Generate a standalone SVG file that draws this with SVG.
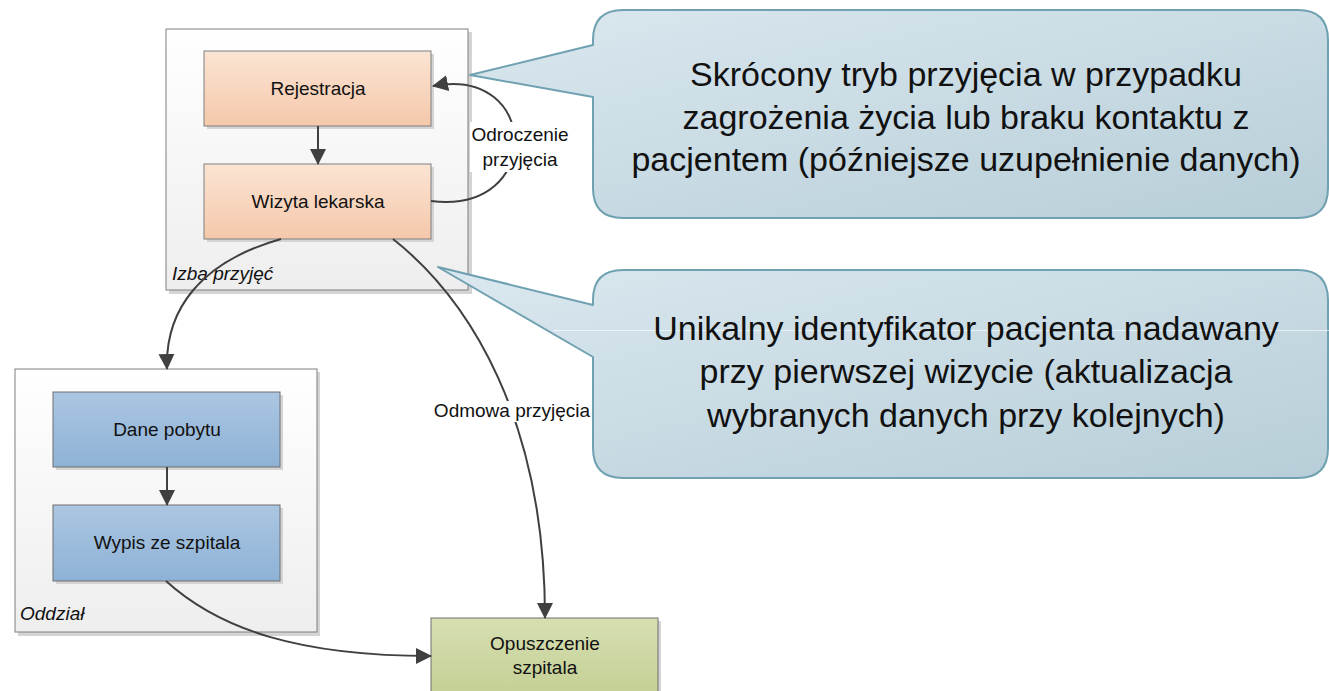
<svg xmlns="http://www.w3.org/2000/svg" width="1329" height="691" viewBox="0 0 1329 691">
  <defs>
    <linearGradient id="gContainer" x1="0" y1="0" x2="0" y2="1">
      <stop offset="0" stop-color="#ffffff"/>
      <stop offset="1" stop-color="#eeeeee"/>
    </linearGradient>
    <linearGradient id="gOrange" x1="0" y1="0" x2="0" y2="1">
      <stop offset="0" stop-color="#fbe4d3"/>
      <stop offset="1" stop-color="#f5c8ab"/>
    </linearGradient>
    <linearGradient id="gBlue" x1="0" y1="0" x2="0" y2="1">
      <stop offset="0" stop-color="#abc6e2"/>
      <stop offset="1" stop-color="#8eb2d6"/>
    </linearGradient>
    <linearGradient id="gGreen" x1="0" y1="0" x2="0" y2="1">
      <stop offset="0" stop-color="#d7dfb2"/>
      <stop offset="1" stop-color="#c3cf93"/>
    </linearGradient>
    <linearGradient id="gCallout" x1="0" y1="0" x2="1" y2="1">
      <stop offset="0" stop-color="#dbe8ef"/>
      <stop offset="1" stop-color="#b7ced8"/>
    </linearGradient>
    <marker id="arrow" viewBox="0 0 16 16" refX="15" refY="8" markerWidth="16" markerHeight="16" markerUnits="userSpaceOnUse" orient="auto">
      <path d="M0,0 L16,8 L0,16 Z" fill="#404040"/>
    </marker>
  </defs>
  <style>
    .container { fill: url(#gContainer); stroke: #7f7f7f; stroke-width: 1; }
    .shadow { fill: #d4d4d4; }
    .orange { fill: url(#gOrange); stroke: #7f7f7f; stroke-width: 1; }
    .blue { fill: url(#gBlue); stroke: #6f6f6f; stroke-width: 1; }
    .green { fill: url(#gGreen); stroke: #6f6f6f; stroke-width: 1; }
    .callout { fill: url(#gCallout); stroke: #6fa1b1; stroke-width: 2; stroke-linejoin: round; }
    .label { font-family: "Liberation Sans", Arial, sans-serif; font-size: 19px; fill: #111; text-anchor: middle; }
    .title { font-family: "Liberation Sans", Arial, sans-serif; font-size: 19px; font-style: italic; fill: #111; }
    .note { font-family: "Liberation Sans", Arial, sans-serif; font-size: 34px; fill: #111; text-anchor: middle; }
    .edge { fill: none; stroke: #404040; stroke-width: 2; marker-end: url(#arrow); }
    .labelbg { fill: #ffffff; }
  </style>

  <!-- Izba przyjęć container -->
  <g id="izba">
    <rect class="shadow" x="169" y="32" width="303" height="262"/>
    <rect class="container" x="166" y="29" width="302" height="261"/>
    <text class="title" x="172" y="280">Izba przyjęć</text>
  </g>

  <!-- Oddział container -->
  <g id="oddzial">
    <rect class="shadow" x="18" y="372" width="302" height="264"/>
    <rect class="container" x="15" y="369" width="302" height="263"/>
    <text class="title" x="20" y="620">Oddział</text>
  </g>

  <g id="rejestracja">
    <rect class="shadow" x="207" y="54" width="227" height="75"/>
    <rect class="orange" x="204" y="51" width="227" height="75"/>
    <text class="label" x="318" y="95">Rejestracja</text>
  </g>

  <g id="wizyta">
    <rect class="shadow" x="207" y="167" width="227" height="75"/>
    <rect class="orange" x="204" y="164" width="227" height="75"/>
    <text class="label" x="318" y="208">Wizyta lekarska</text>
  </g>

  <g id="dane-pobytu">
    <rect class="shadow" x="56" y="395" width="227" height="75"/>
    <rect class="blue" x="53" y="392" width="227" height="75"/>
    <text class="label" x="167" y="436">Dane pobytu</text>
  </g>

  <g id="wypis">
    <rect class="shadow" x="56" y="508" width="227" height="76"/>
    <rect class="blue" x="53" y="505" width="227" height="76"/>
    <text class="label" x="167" y="549">Wypis ze szpitala</text>
  </g>

  <g id="opuszczenie">
    <rect class="shadow" x="434" y="621" width="227" height="80"/>
    <rect class="green" x="431" y="618" width="227" height="80"/>
    <text class="label" x="545" y="650">Opuszczenie</text>
    <text class="label" x="545" y="674">szpitala</text>
  </g>

  <!-- Connectors -->
  <g id="connectors">
    <path class="edge" d="M318 126 L318 164"/>
    <path class="edge" d="M167 467 L167 505"/>
    <path class="edge" d="M431 201 C545 215 540 65 433 86"/>
    <path class="edge" d="M281 239 C200 262 165 310 167 369"/>
    <path class="edge" d="M393 239 C470 300 545 420 545 618"/>
    <path class="edge" d="M166 581 C220 630 300 656 431 656"/>
    <rect class="labelbg" x="470" y="122" width="102" height="50"/>
    <text class="label" x="520" y="141">Odroczenie</text>
    <text class="label" x="520" y="166">przyjęcia</text>
    <rect class="labelbg" x="432" y="401" width="160" height="21"/>
    <text class="label" x="512" y="417">Odmowa przyjęcia</text>
  </g>

  <!-- Notes -->
  <g id="note-skrocony">
    <path class="callout" d="M623 10 H1298 Q1328 10 1328 40 V188 Q1328 218 1298 218 H623 Q593 218 593 188 V97 L470 75 L593 45 V40 Q593 10 623 10 Z"/>
    <text class="note" x="966" y="86">Skrócony tryb przyjęcia w przypadku</text>
    <text class="note" x="966" y="129">zagrożenia życia lub braku kontaktu z</text>
    <text class="note" x="966" y="171">pacjentem (późniejsze uzupełnienie danych)</text>
  </g>

  <g id="note-identyfikator">
    <path class="callout" d="M623 270 H1298 Q1328 270 1328 300 V448 Q1328 478 1298 478 H623 Q593 478 593 448 V357 L438 267 L593 305 V300 Q593 270 623 270 Z"/>
    <line x1="553" y1="330.5" x2="1329" y2="330.5" stroke="#ffffff" stroke-opacity="0.6" stroke-width="1"/>
    <text class="note" x="966" y="340">Unikalny identyfikator pacjenta nadawany</text>
    <text class="note" x="966" y="383">przy pierwszej wizycie (aktualizacja</text>
    <text class="note" x="966" y="427">wybranych danych przy kolejnych)</text>
  </g>
</svg>
